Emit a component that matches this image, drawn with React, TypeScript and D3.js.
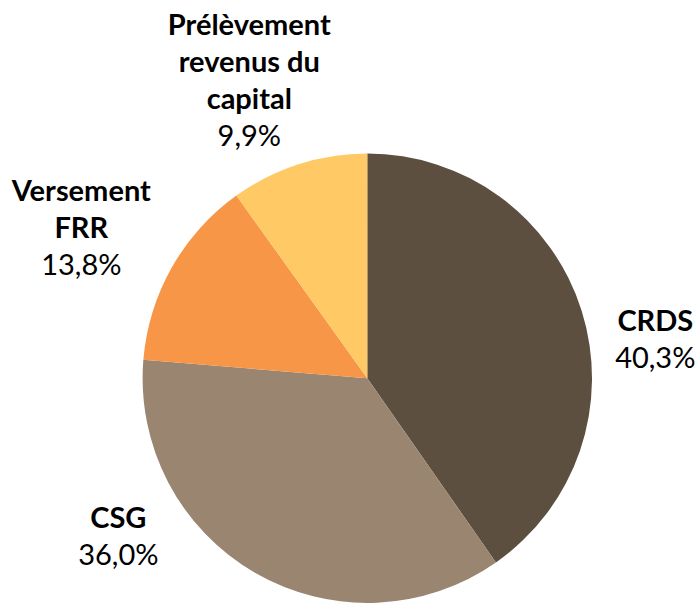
import React from "react";
import * as d3 from "d3";

const categories = ["CRDS", "CSG", "Versement FRR", "Prélèvement revenus du capital"];
const values = [40.3, 36.0, 13.8, 9.9];
const valueLabels = ["40,3%", "36,0%", "13,8%", "9,9%"];
const labelLines = [["CRDS"], ["CSG"], ["Versement", "FRR"], ["Prélèvement", "revenus du", "capital"]];
const colors = ["#5C4F3F", "#9A8571", "#F79646", "#FFC966"];

// label placement (first baseline) relative to the pie center
const labelOffsets: [number, number][] = [
  [288, -47],
  [-249, 150],
  [-286, -177],
  [-118, -343],
];

const W = 697;
const H = 603;
const cx = 367.3;
const cy = 378.2;
const R = 224.7;
const lineH = 37;
const fontSize = 29;

export default function App() {
  const pie = d3.pie<number>().sort(null).value((d) => d);
  const arcs = pie(values);
  const arc = d3.arc<d3.PieArcDatum<number>>().innerRadius(0).outerRadius(R);
  return (
    <svg
      width={W}
      height={H}
      style={{ position: "absolute", left: 0, top: 0, background: "#fff" }}
      fontFamily="Lato, 'Noto Sans', sans-serif"
    >
      <g transform={`translate(${cx},${cy})`}>
        {arcs.map((a, i) => (
          <path key={i} d={arc(a) || ""} fill={colors[i]} />
        ))}
        {arcs.map((a, i) => {
          const [ox, oy] = labelOffsets[i];
          const lines = labelLines[i];
          return (
            <text key={"t" + i} x={ox} y={oy} textAnchor="middle" fontSize={fontSize} fill="#000">
              {lines.map((l, j) => (
                <tspan key={j} x={ox} y={oy + j * lineH} fontWeight="bold">
                  {l}
                </tspan>
              ))}
              <tspan x={ox} y={oy + lines.length * lineH}>
                {valueLabels[i]}
              </tspan>
            </text>
          );
        })}
      </g>
    </svg>
  );
}
